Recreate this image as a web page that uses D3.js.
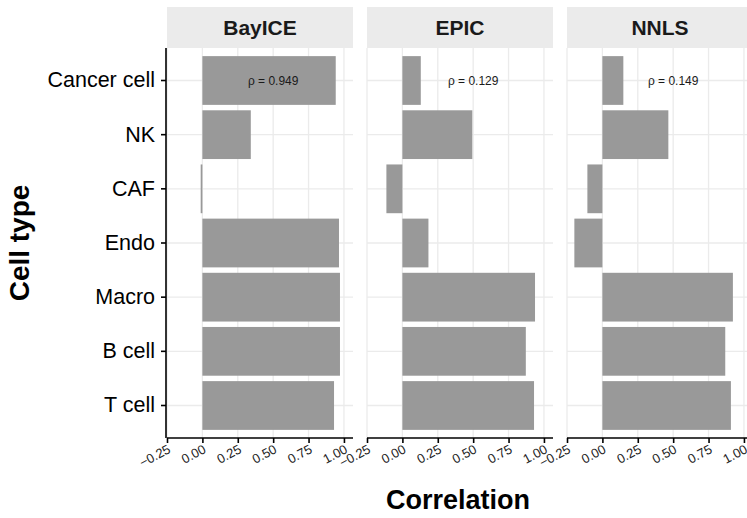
<!DOCTYPE html>
<html>
<head>
<meta charset="utf-8">
<script src="https://cdn.jsdelivr.net/npm/d3@7"></script>
<style>
  body { margin: 0; background: #fff; }
  svg { display: block; font-family: "Liberation Sans", Arial, Helvetica, sans-serif; }
</style>
</head>
<body>
<div id="chart"></div>
<script>
// values
var cellTypes = ['Cancer cell', 'NK', 'CAF', 'Endo', 'Macro', 'B cell', 'T cell'];
var methods = ['BayICE', 'EPIC', 'NNLS'];
var bayiceValues = [0.942, 0.342, -0.012, 0.965, 0.972, 0.972, 0.93];
var epicValues = [0.13, 0.494, -0.113, 0.184, 0.937, 0.872, 0.93];
var nnlsValues = [0.148, 0.466, -0.106, -0.198, 0.922, 0.868, 0.908];
var rhoLabels = ['\u03C1 = 0.949', '\u03C1 = 0.129', '\u03C1 = 0.149'];
var rhoPosition = 0.5;
var xTicks = [-0.25, 0, 0.25, 0.5, 0.75, 1];

var seriesValues = [bayiceValues, epicValues, nnlsValues];

var width = 747, height = 518;
var panelLeft = 167, panelWidth = 186, panelGap = 14;
var panelTop = 48, panelBottom = 438, stripTop = 7;

var svg = d3.select('#chart')
  .append('svg')
  .attr('width', width)
  .attr('height', height);

var x = d3.scaleLinear()
  .domain([-0.25, 1.064])
  .range([0, panelWidth]);

var y = d3.scaleBand()
  .domain(cellTypes)
  .range([panelTop, panelBottom])
  .paddingInner(0.1)
  .paddingOuter(0.15);

var fmt = d3.format('.2f');

methods.forEach(function(m, i){
  var data = cellTypes.map(function(c, j){ return { cell: c, value: seriesValues[i][j] }; });
  var g = svg.append('g')
    .attr('transform', 'translate(' + (panelLeft + i * (panelWidth + panelGap)) + ',0)');

  // strip
  g.append('rect')
    .attr('x', 0).attr('y', stripTop)
    .attr('width', panelWidth).attr('height', panelTop - stripTop)
    .attr('fill', '#ebebeb');
  g.append('text')
    .attr('x', panelWidth / 2).attr('y', (stripTop + panelTop) / 2)
    .attr('dy', '0.36em')
    .attr('text-anchor', 'middle')
    .attr('font-size', 21).attr('font-weight', 'bold')
    .attr('fill', '#1a1a1a')
    .text(m);

  // grid
  g.selectAll('.vgrid')
    .data(xTicks)
    .enter().append('line')
    .attr('x1', function(d){ return x(d); }).attr('x2', function(d){ return x(d); })
    .attr('y1', panelTop).attr('y2', panelBottom)
    .attr('stroke', '#ebebeb').attr('stroke-width', 1.3);
  g.selectAll('.hgrid')
    .data(cellTypes)
    .enter().append('line')
    .attr('x1', 0).attr('x2', panelWidth)
    .attr('y1', function(d){ return y(d) + y.bandwidth() / 2; })
    .attr('y2', function(d){ return y(d) + y.bandwidth() / 2; })
    .attr('stroke', '#ebebeb').attr('stroke-width', 1.3);

  // bars
  g.selectAll('.bar')
    .data(data)
    .enter().append('rect')
    .attr('x', function(d){ return x(Math.min(0, d.value)); })
    .attr('y', function(d){ return y(d.cell); })
    .attr('width', function(d){ return Math.abs(x(d.value) - x(0)); })
    .attr('height', y.bandwidth())
    .attr('fill', '#999999');

  // rho label
  g.append('text')
    .attr('x', x(rhoPosition))
    .attr('y', y(cellTypes[0]) + y.bandwidth() / 2)
    .attr('dy', '0.36em')
    .attr('text-anchor', 'middle')
    .attr('font-size', 12)
    .attr('fill', '#1a1a1a')
    .text(rhoLabels[i]);

  // x axis
  var xAxis = g.append('g')
    .attr('transform', 'translate(0,' + panelBottom + ')')
    .call(d3.axisBottom(x).tickValues(xTicks).tickFormat(fmt).tickSize(5).tickSizeOuter(0));
  xAxis.select('.domain').attr('stroke', '#000').attr('stroke-width', 1.6)
    .attr('d', 'M0,0H' + panelWidth);
  xAxis.selectAll('.tick line').attr('stroke', '#000').attr('stroke-width', 1.6);
  xAxis.selectAll('.tick text')
    .attr('font-size', 13)
    .attr('fill', '#222')
    .attr('text-anchor', 'end')
    .attr('dy', null)
    .attr('y', 0)
    .attr('transform', 'translate(4,14) rotate(-28)')
    .text(function(d){ return d < 0 ? '\u22120.25' : fmt(d); });
});

// y axis on first panel
var yAxis = svg.append('g')
  .attr('transform', 'translate(' + (panelLeft - 1) + ',0)')
  .call(d3.axisLeft(y).tickSize(5).tickSizeOuter(0));
yAxis.select('.domain').attr('stroke', '#000').attr('stroke-width', 1.6)
  .attr('d', 'M0,' + panelTop + 'V' + panelBottom);
yAxis.selectAll('.tick line').attr('stroke', '#000').attr('stroke-width', 1.6);
yAxis.selectAll('.tick text')
  .attr('font-size', 21.5)
  .attr('fill', '#000')
  .attr('x', -11);

// axis titles
svg.append('text')
  .attr('x', 458).attr('y', 509)
  .attr('text-anchor', 'middle')
  .attr('font-size', 27).attr('font-weight', 'bold')
  .text('Correlation');

svg.append('text')
  .attr('transform', 'translate(29,' + ((panelTop + panelBottom) / 2) + ') rotate(-90)')
  .attr('text-anchor', 'middle')
  .attr('font-size', 28).attr('font-weight', 'bold')
  .text('Cell type');
</script>
</body>
</html>
